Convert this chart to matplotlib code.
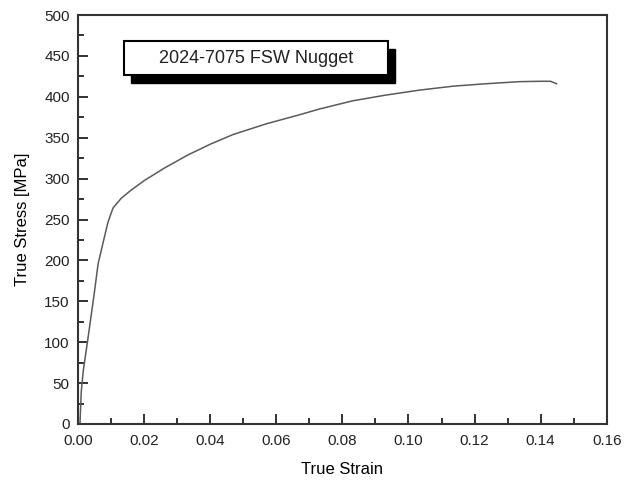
import matplotlib
matplotlib.use("Agg")
import matplotlib.pyplot as plt
from matplotlib.patches import Rectangle
from matplotlib.ticker import MultipleLocator

plt.rcParams['font.family'] = ['Liberation Sans', 'DejaVu Sans']

strain = [0.0006, 0.0010, 0.0016, 0.0031, 0.0048, 0.0061, 0.0079, 0.0091, 0.0106,
          0.0131, 0.0161, 0.0202, 0.0262, 0.0333, 0.0400, 0.0470, 0.0570, 0.0670,
          0.0730, 0.0830, 0.0930, 0.1030, 0.1135, 0.1235, 0.1335, 0.1400, 0.1430,
          0.1448]
stress = [0, 40, 65, 107, 156, 196, 227, 247, 264, 276, 286, 298, 313, 329, 342,
          354, 367, 378, 385, 395, 402, 408, 413, 416, 418.5, 419, 419, 416]

label_text = "2024-7075 FSW Nugget"
xlabel = "True Strain"
ylabel = "True Stress [MPa]"

fig = plt.figure(figsize=(6.34, 4.86), dpi=100)
ax = fig.add_axes([0.123, 0.1276, 0.834, 0.8415])
ax.plot(strain, stress, color='#5a5a5a', lw=1.1)

ax.set_xlim(0, 0.16)
ax.set_ylim(0, 500)
ax.xaxis.set_major_locator(MultipleLocator(0.02))
ax.xaxis.set_minor_locator(MultipleLocator(0.01))
ax.yaxis.set_major_locator(MultipleLocator(50))
ax.yaxis.set_minor_locator(MultipleLocator(25))
ax.xaxis.set_major_formatter(plt.FuncFormatter(lambda v, p: f"{v:.2f}"))
ax.tick_params(which='both', direction='in', width=1.3, labelsize=11, colors='#222222')
ax.tick_params(which='major', length=7)
ax.tick_params(which='minor', length=4)
ax.tick_params(axis='x', which='major', pad=7)
ax.tick_params(axis='y', which='major', pad=6)
ax.tick_params(top=False, right=False, which='both')
for s in ax.spines.values():
    s.set_linewidth(1.5)
    s.set_color('#333333')

ax.set_xlabel(xlabel, fontsize=12, labelpad=10)
ax.set_ylabel(ylabel, fontsize=12, labelpad=10)

# label box with shadow
x0, y0, w, h = 0.087, 0.853, 0.499, 0.083
ax.add_patch(Rectangle((x0 + 0.013, y0 - 0.020), w, h, transform=ax.transAxes,
                       facecolor='black', edgecolor='black', zorder=3))
ax.add_patch(Rectangle((x0, y0), w, h, transform=ax.transAxes,
                       facecolor='white', edgecolor='black', lw=1.5, zorder=4))
ax.text(x0 + w / 2, y0 + h / 2, label_text, transform=ax.transAxes,
        ha='center', va='center', fontsize=13, zorder=5, color='#222222')

fig.savefig("out.png", dpi=100)
